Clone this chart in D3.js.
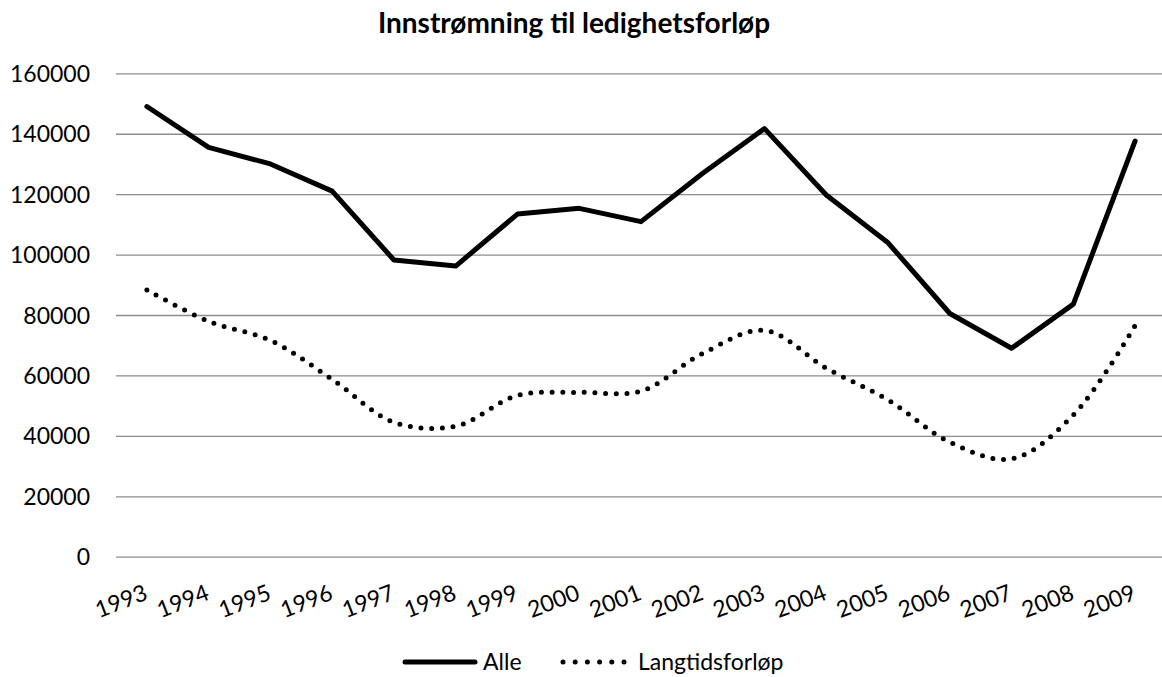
<!DOCTYPE html>
<meta charset="utf-8">
<script src="https://d3js.org/d3.v7.min.js"></script>
<style>
  body { margin: 0; background: #fff; }
  text { font-family: Lato, "Open Sans", sans-serif; fill: #000; }
</style>
<body>
<div id="chart"></div>
<script>

// data
var years = ["1993","1994","1995","1996","1997","1998","1999","2000","2001",
             "2002","2003","2004","2005","2006","2007","2008","2009"]
var alle = [149000, 135500, 130000, 121000, 98200, 96200, 113400, 115300, 110900,
            126900, 141700, 119700, 103900, 80500, 69000, 83600, 137600]
var langtid = [88300, 77900, 71600, 58700, 44500, 43200, 53400, 54400, 54800,
               67300, 74900, 62400, 51900, 37900, 32400, 46900, 76500]
var yTicks = [0, 20000, 40000, 60000, 80000, 100000, 120000, 140000, 160000]
var seriesNames = ["Alle", "Langtidsforløp"]

var W = 1162, H = 677
var plotL = 116, plotR = 1166, plotT = 73.3, plotB = 556.7

var svg = d3.select("#chart").append("svg")
    .attr("width", W)
    .attr("height", H)

// title
svg.append("text")
    .attr("x", 574)
    .attr("y", 33)
    .attr("text-anchor", "middle")
    .style("font-size", "28px")
    .style("font-weight", "bold")
    .text("Innstrømning til ledighetsforløp")

var x = d3.scalePoint()
    .domain(years)
    .range([plotL, plotR])
    .padding(0.5)

var y = d3.scaleLinear()
    .domain([0, 160000])
    .range([plotB, plotT])

// y axis + gridlines
var yAxis = svg.append("g")
    .attr("transform", "translate(" + plotL + ",0)")
    .call(d3.axisLeft(y)
      .tickValues(yTicks)
      .tickFormat(d3.format("d"))
      .tickSize(-(plotR - plotL))
      .tickPadding(26))
yAxis.select(".domain").remove()
yAxis.selectAll("line")
    .attr("stroke", "#8c8c8c")
    .attr("stroke-width", 1.3)
yAxis.selectAll("text")
    .style("font-size", "23px")
    .style("font-family", "Lato, sans-serif")
    .attr("fill", "#000")
    .attr("dy", "0.35em")

// x labels, rotated
svg.append("g").selectAll("text")
    .data(years)
    .enter().append("text")
    .attr("transform", function(d) { return "translate(" + (x(d) + 2) + ",599) rotate(-21)" })
    .attr("text-anchor", "end")
    .style("font-size", "23px")
    .text(function(d) { return d })

// lines
var lineAlle = d3.line()
    .x(function(d, i) { return x(years[i]) })
    .y(function(d) { return y(d) })

var lineLang = d3.line()
    .x(function(d, i) { return x(years[i]) })
    .y(function(d) { return y(d) })
    .curve(d3.curveCatmullRom.alpha(0.5))

svg.append("path")
    .datum(langtid)
    .attr("d", lineLang)
    .attr("fill", "none")
    .attr("stroke", "#000")
    .attr("stroke-width", 5)
    .attr("stroke-linecap", "round")
    .attr("stroke-dasharray", "0 10.7")

svg.append("path")
    .datum(alle)
    .attr("d", lineAlle)
    .attr("fill", "none")
    .attr("stroke", "#000")
    .attr("stroke-width", 5)
    .attr("stroke-linejoin", "round")
    .attr("stroke-linecap", "round")

// legend
var legend = svg.append("g")
legend.append("line")
    .attr("x1", 405).attr("x2", 475)
    .attr("y1", 662).attr("y2", 662)
    .attr("stroke", "#000")
    .attr("stroke-width", 5)
    .attr("stroke-linecap", "round")
legend.append("text")
    .attr("x", 483).attr("y", 670)
    .style("font-size", "23px")
    .text(seriesNames[0])
legend.append("line")
    .attr("x1", 563).attr("x2", 624)
    .attr("y1", 662).attr("y2", 662)
    .attr("stroke", "#000")
    .attr("stroke-width", 5)
    .attr("stroke-linecap", "round")
    .attr("stroke-dasharray", "0 12.2")
legend.append("text")
    .attr("x", 638).attr("y", 670)
    .style("font-size", "23px")
    .text(seriesNames[1])

</script>
</body>
